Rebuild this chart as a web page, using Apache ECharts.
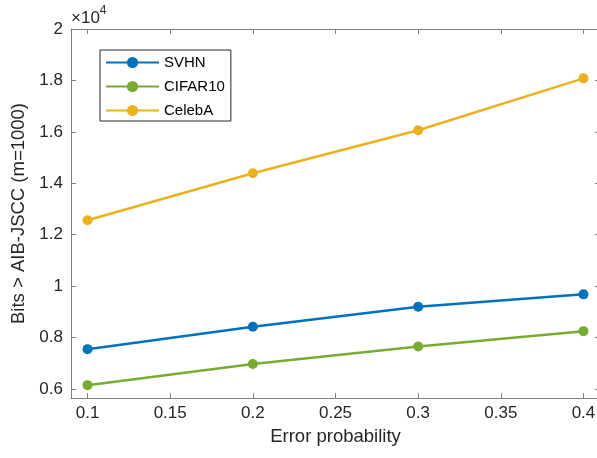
<!DOCTYPE html>
<html><head><meta charset="utf-8">
<script src="https://cdn.jsdelivr.net/npm/echarts@6/dist/echarts.min.js"></script>
<style>html,body{margin:0;padding:0;background:#fff}#c{width:597px;height:458px}</style>
</head><body><div id="c"></div>
<script>
const errorProb = [0.1, 0.2, 0.3, 0.4];
const svhn = [7550, 8420, 9200, 9680];
const cifar10 = [6150, 6970, 7650, 8250];
const celebA = [12560, 14390, 16060, 18080];
const xTicks = [0.1, 0.15, 0.2, 0.25, 0.3, 0.35, 0.4];
const yTicks = [6000, 8000, 10000, 12000, 14000, 16000, 18000, 20000];

const axisColor = '#808080';
const textColor = '#262626';
const font = 'Liberation Sans, Arial, Helvetica, sans-serif';
const chart = echarts.init(document.getElementById('c'), null, {renderer: 'canvas'});

function mk(name, data, color) {
  return {
    name, type: 'line', data: errorProb.map((x, i) => [x, data[i]]),
    symbol: 'circle', symbolSize: 10, showSymbol: true,
    lineStyle: {color, width: 2.5}, itemStyle: {color},
    xAxisIndex: 0, yAxisIndex: 0, animation: false, z: 3
  };
}
const xCommon = {
  type: 'value', min: 0.09, max: 0.41,
  axisLine: {show: true, lineStyle: {color: axisColor, width: 1}},
  splitLine: {show: false}
};
const yCommon = {
  type: 'value', min: 5650, max: 20000,
  axisLine: {show: true, lineStyle: {color: axisColor, width: 1}},
  splitLine: {show: false}
};
chart.setOption({
  animation: false,
  backgroundColor: '#fff',
  grid: {left: 71, top: 29, right: -3, bottom: 60, outerBoundsMode: 'none', containLabel: false},
  legend: {
    orient: 'vertical', left: 100, top: 50,
    data: ['SVHN', 'CIFAR10', 'CelebA'],
    itemWidth: 53, itemHeight: 14, itemGap: 9,
    padding: [5, 6, 3, 5],
    borderColor: textColor, borderWidth: 1, backgroundColor: '#fff',
    textStyle: {fontFamily: font, fontSize: 15, color: '#000'}
  },
  xAxis: [
    Object.assign({}, xCommon, {
      position: 'bottom',
      name: 'Error probability', nameLocation: 'middle', nameGap: 29,
      nameTextStyle: {fontFamily: font, fontSize: 18.5, color: textColor},
      axisTick: {show: true, inside: true, length: 5, customValues: xTicks, lineStyle: {color: axisColor}},
      axisLabel: {show: true, customValues: xTicks, margin: 7, fontFamily: font, fontSize: 17, color: textColor,
        formatter: v => String(+v.toFixed(2))}
    }),
    Object.assign({}, xCommon, {
      position: 'top',
      axisTick: {show: true, inside: true, length: 5, customValues: xTicks, lineStyle: {color: axisColor}},
      axisLabel: {show: false}
    })
  ],
  yAxis: [
    Object.assign({}, yCommon, {
      position: 'left',
      name: 'Bits > AIB-JSCC (m=1000)', nameLocation: 'middle', nameGap: 43, nameRotate: 90,
      nameTextStyle: {fontFamily: font, fontSize: 18.5, color: textColor},
      axisTick: {show: true, inside: true, length: 5, customValues: yTicks, lineStyle: {color: axisColor}},
      axisLabel: {show: true, customValues: yTicks, margin: 8, fontFamily: font, fontSize: 17, color: textColor,
        formatter: v => String(+(v / 10000).toFixed(1))}
    }),
    Object.assign({}, yCommon, {
      position: 'right',
      axisTick: {show: true, inside: true, length: 5, customValues: yTicks, lineStyle: {color: axisColor}},
      axisLabel: {show: false}
    })
  ],
  graphic: [{
    type: 'text', left: 71, top: 5,
    style: {
      text: '{a|×10}{b|4}',
      rich: {
        a: {fontFamily: font, fontSize: 17, fill: textColor, verticalAlign: 'bottom'},
        b: {fontFamily: font, fontSize: 12, fill: textColor, verticalAlign: 'top', padding: [0, 0, 10, 0]}
      }
    }
  }],
  series: [
    mk('SVHN', svhn, '#0072BD'),
    mk('CIFAR10', cifar10, '#77AC30'),
    mk('CelebA', celebA, '#EDB120')
  ]
});
</script></body></html>
